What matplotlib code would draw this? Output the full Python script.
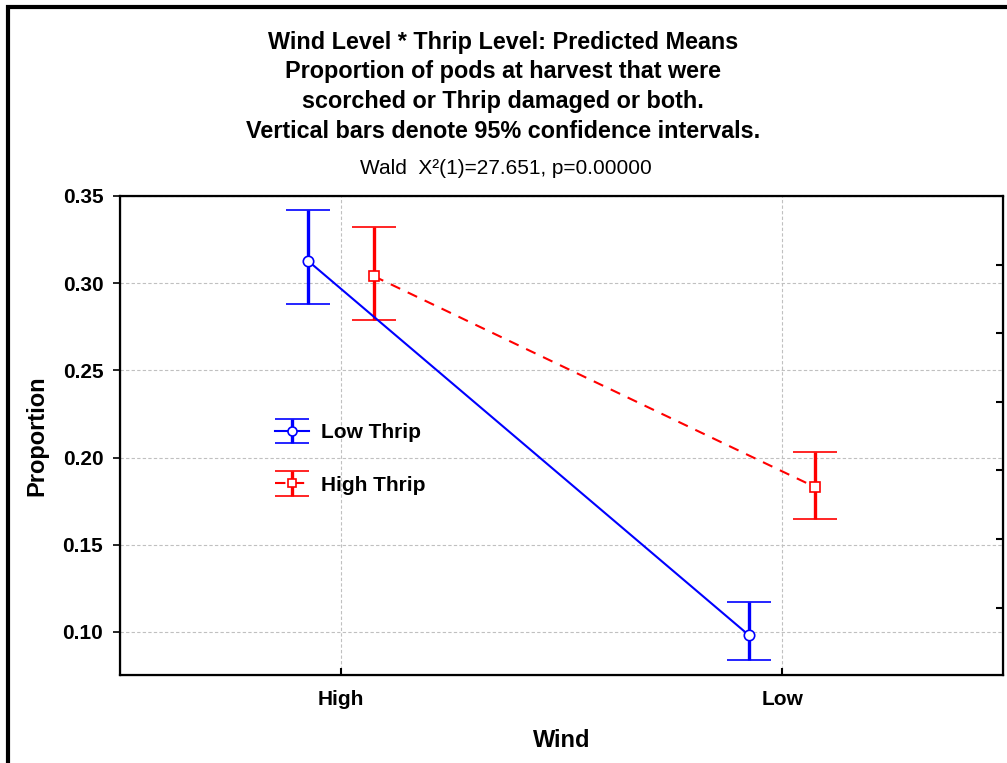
import numpy as np
import matplotlib
matplotlib.use('Agg')
import matplotlib.pyplot as plt
from matplotlib.patches import Rectangle
from matplotlib.legend_handler import HandlerErrorbar

plt.rcParams['font.family'] = ['Liberation Sans', 'DejaVu Sans']

wind = ['High', 'Low']
low_mean = [0.313, 0.098]
low_lo = [0.288, 0.084]
low_hi = [0.342, 0.117]
high_mean = [0.304, 0.183]
high_lo = [0.279, 0.165]
high_hi = [0.332, 0.203]
yticks = [0.10, 0.15, 0.20, 0.25, 0.30, 0.35]
right_ticks = [0.1138, 0.1533, 0.1929, 0.2319, 0.2714, 0.3104]

fig = plt.figure(figsize=(10.07, 7.63), dpi=100)
ax = fig.add_axes([120/1007, 1-675/763, 883/1007, 479/763])

x = np.arange(len(wind))
off = 0.075
blue, red = '#0000ff', '#ff0000'
dash = (0, (5, 4))

def draw(xx, m, lo, hi, color, marker, ms, ls, cap=16, label=None):
    m = np.array(m, dtype=float)
    err = [m - np.array(lo), np.array(hi) - m]
    return ax.errorbar(xx, m, yerr=err, color=color, lw=1.5, ls=ls,
                       marker=marker, ms=ms, mfc='white', mec=color, mew=1.2,
                       elinewidth=2.4, capsize=cap, capthick=2.4, zorder=3,
                       label=label)

draw(x - off, low_mean, low_lo, low_hi, blue, 'o', 7.5, '-')
draw(x + off, high_mean, high_lo, high_hi, red, 's', 7, dash)

# legend proxies (smaller caps and markers than the plotted bars)
p1 = draw([np.nan], [np.nan], [np.nan], [np.nan], blue, 'o', 6.5, '-', cap=12,
          label='Low Thrip')
p2 = draw([np.nan], [np.nan], [np.nan], [np.nan], red, 's', 6, dash, cap=12,
          label='High Thrip')

ax.set_xlim(-0.5, 1.5)
ax.set_ylim(0.0753, 0.35)
ax.set_xticks(x)
ax.set_xticklabels(wind, fontsize=15, fontweight='bold')
ax.set_yticks(yticks)
ax.set_yticklabels(['%.2f' % v for v in yticks], fontsize=15, fontweight='bold')
ax.tick_params(axis='y', direction='out', length=5, width=1.2, pad=7)
ax.tick_params(axis='x', direction='in', length=5, width=1.5, pad=11)
ax.grid(True, ls=(0, (3, 2)), color='#c0c0c0', lw=0.8)
for s in ax.spines.values():
    s.set_linewidth(1.6)

ax2 = ax.twinx()
ax2.set_ylim(ax.get_ylim())
ax2.set_yticks(right_ticks)
ax2.set_yticklabels([])
ax2.tick_params(axis='y', direction='in', length=5, width=1.5)

ax.set_xlabel('Wind', fontsize=17, fontweight='bold', labelpad=14)
ax.set_ylabel('Proportion', fontsize=17, fontweight='bold', labelpad=10)

ax.legend(handles=[p1, p2], loc='upper left', bbox_to_anchor=(0.1634, 0.547),
          frameon=False, prop={'size': 15, 'weight': 'bold'}, borderpad=0,
          handlelength=1.65, labelspacing=1.6, handletextpad=0.55,
          handler_map={type(p1): HandlerErrorbar(yerr_size=0.58)})

titles = ['Wind Level * Thrip Level: Predicted Means',
          'Proportion of pods at harvest that were',
          'scorched or Thrip damaged or both.',
          'Vertical bars denote 95% confidence intervals.']
for i, t in enumerate(titles):
    fig.text(503/1007, 1 - (42 + 29.7*i)/763, t, ha='center', va='center',
             fontsize=16.8, fontweight='bold')
fig.text(506/1007, 1 - 168/763, 'Wald  X²(1)=27.651, p=0.00000', ha='center',
         va='center', fontsize=15)

fig.patches.append(Rectangle((8/1007, -0.1), 1.2, 1.1 - 7/763,
                             transform=fig.transFigure, fill=False,
                             lw=3, ec='black'))

fig.savefig('out.png', dpi=100)
